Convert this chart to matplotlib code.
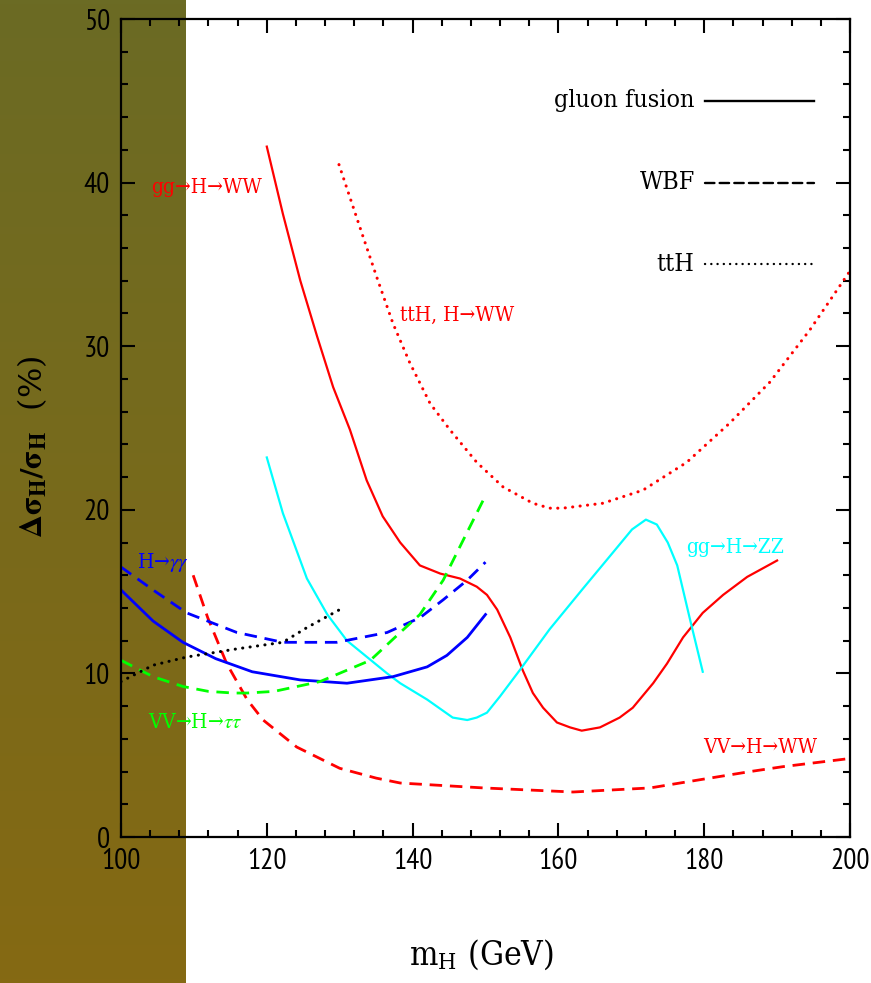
import numpy as np
import matplotlib
matplotlib.use("Agg")
import matplotlib.pyplot as plt
from matplotlib import font_manager
from matplotlib.font_manager import FontProperties
from matplotlib.ticker import MultipleLocator

# ---------------- data ----------------
# gluon fusion, H -> WW (red solid)
gg_ww_x = [120, 122.2, 124.6, 126.9, 129.1, 131.4, 133.7, 135.9, 138.3, 141.0, 143.8, 146.5,
           148.8, 150.2, 151.6, 153.4, 155.1, 156.5, 157.9, 159.8, 161.6, 163.2, 165.7, 168.4,
           170.2, 173.0, 174.9, 177.1, 179.8, 182.6, 185.9, 190.0]
gg_ww_y = [42.2, 38.1, 34.0, 30.6, 27.5, 24.9, 21.8, 19.6, 18.0, 16.6, 16.1, 15.8,
           15.3, 14.8, 13.9, 12.2, 10.2, 8.8, 7.9, 7.0, 6.7, 6.5, 6.7, 7.3,
           7.9, 9.4, 10.6, 12.2, 13.7, 14.8, 15.9, 16.9]

# gluon fusion, H -> ZZ (cyan solid)
gg_zz_x = [120, 122.2, 125.5, 128.3, 131.0, 136.5, 138.3, 142.0, 145.5, 147.5, 148.8, 150.2,
           152.0, 154.7, 158.8, 163.4, 167.5, 170.1, 172.0, 173.5, 175.0, 176.3, 178.0, 179.8]
gg_zz_y = [23.2, 19.8, 15.8, 13.6, 12.0, 10.0, 9.4, 8.4, 7.3, 7.15, 7.3, 7.6,
           8.6, 10.2, 12.7, 15.2, 17.4, 18.8, 19.4, 19.1, 18.0, 16.6, 13.4, 10.1]

# ttH, H -> WW (red dotted)
tth_ww_x = [129.9, 131.4, 133.2, 135.1, 137.3, 139.6, 142.4, 145.1, 148.8, 152.4, 156.5, 158.8,
            160.6, 166.1, 171.6, 177.6, 183.5, 189.0, 194.5, 200.0]
tth_ww_y = [41.1, 39.1, 36.7, 34.2, 31.4, 29.0, 26.5, 24.9, 22.9, 21.4, 20.4, 20.1,
            20.1, 20.4, 21.2, 22.9, 25.3, 27.8, 31.0, 34.6]

# WBF, H -> WW (red dashed)
vv_ww_x = [109.9, 111.9, 114.5, 117.3, 119.5, 124.1, 130.0, 135.0, 138.3, 149.7, 162.0,
           172.6, 179.4, 186.3, 190.8, 200.0]
vv_ww_y = [16.0, 13.4, 10.6, 8.4, 7.15, 5.5, 4.2, 3.6, 3.3, 3.0, 2.75,
           3.0, 3.5, 4.0, 4.3, 4.8]

# gluon fusion, H -> gamma gamma (blue solid)
gg_aa_x = [100, 104.4, 108.5, 113.0, 118.0, 124.6, 131.0, 137.3, 142.0, 144.7, 147.5, 150.0]
gg_aa_y = [15.1, 13.2, 11.9, 10.9, 10.1, 9.6, 9.4, 9.8, 10.4, 11.1, 12.2, 13.6]

# WBF, H -> gamma gamma (blue dashed)
vv_aa_x = [100, 104.4, 109.0, 115.9, 122.2, 129.6, 136.5, 141.0, 144.2, 147.5, 150.0]
vv_aa_y = [16.5, 15.1, 13.7, 12.5, 11.9, 11.9, 12.5, 13.4, 14.5, 15.7, 16.8]

# WBF, H -> tau tau (green dashed)
vv_tt_x = [100, 104.4, 108.5, 112.0, 115.4, 117.3, 121.0, 127.3, 134.2, 138.3, 141.0, 144.2, 147.0, 149.7]
vv_tt_y = [10.8, 9.8, 9.2, 8.9, 8.8, 8.8, 8.9, 9.5, 10.8, 12.5, 13.6, 15.7, 18.2, 20.6]

# ttH, H -> gamma gamma (black dotted)
tth_aa_x = [100, 104.4, 109.0, 115.9, 122.2, 125.5, 130.0]
tth_aa_y = [9.5, 10.5, 11.0, 11.5, 11.9, 12.8, 13.9]

legend_labels = ["gluon fusion", "WBF", "ttH"]
legend_y = [45, 40, 35]

x_ticks = [100, 120, 140, 160, 180, 200]
y_ticks = [0, 10, 20, 30, 40, 50]

# ---------------- fonts ----------------
def have(name):
    try:
        font_manager.findfont(FontProperties(family=name), fallback_to_default=False)
        return True
    except Exception:
        return False

def serif_c(size):
    return FontProperties(family=["DejaVu Serif"], stretch="condensed", size=size)

if have("PT Sans Narrow"):
    tick_fp = FontProperties(family="PT Sans Narrow", size=21)
elif have("Archivo Narrow"):
    tick_fp = FontProperties(family="Archivo Narrow", size=21)
else:
    tick_fp = FontProperties(family="DejaVu Sans", stretch="condensed", size=16)

plt.rcParams["font.family"] = ["DejaVu Serif"]
plt.rcParams["mathtext.fontset"] = "stix"

# ---------------- figure ----------------
W, H = 871, 983
fig = plt.figure(figsize=(W / 100, H / 100), dpi=100)
fig.patch.set_facecolor("white")

# gradient band on the left
band = fig.add_axes([0, 0, 185 / W, 1])
top = np.array([107, 107, 36]) / 255.0
bot = np.array([133, 105, 19]) / 255.0
t = np.linspace(0, 1, 256)[:, None]
grad = (top[None, :] * (1 - t) + bot[None, :] * t)[:, None, :]
band.imshow(grad, aspect="auto", extent=[0, 1, 0, 1], origin="upper")
band.set_axis_off()

ax = fig.add_axes([121 / W, (H - 837) / H, (850 - 121) / W, (837 - 19) / H])
ax.patch.set_alpha(0)

RED, BLUE, CYAN, GREEN = "#ff0000", "#0000ff", "#00ffff", "#00ff00"
dash = (0, (4.5, 2.8))
dot = (0, (0.05, 2.4))
dkw = dict(dash_capstyle="round")

ax.plot(gg_ww_x, gg_ww_y, color=RED, lw=1.6)
ax.plot(gg_zz_x, gg_zz_y, color=CYAN, lw=1.6)
ax.plot(tth_ww_x, tth_ww_y, color=RED, lw=2.2, linestyle=dot, **dkw)
ax.plot(vv_ww_x, vv_ww_y, color=RED, lw=2.0, linestyle=dash)
ax.plot(gg_aa_x, gg_aa_y, color=BLUE, lw=2.0)
ax.plot(vv_aa_x, vv_aa_y, color=BLUE, lw=2.0, linestyle=dash)
ax.plot(vv_tt_x, vv_tt_y, color=GREEN, lw=2.0, linestyle=dash)
ax.plot(tth_aa_x, tth_aa_y, color="black", lw=2.2, linestyle=dot, **dkw)

# legend (drawn inside the axes)
styles = ["-", (0, (4.0, 2.2)), (0, (0.05, 2.6))]
for lab, yy, ls in zip(legend_labels, legend_y, styles):
    ax.plot([180.1, 195.1], [yy, yy], color="black", lw=1.7, linestyle=ls, dash_capstyle="round")
    ax.text(178.7, yy, lab, ha="right", va="center", fontproperties=serif_c(18), color="black")

# curve labels
def lab(x, y, s, c):
    ax.text(x, y, s, color=c, ha="center", va="center", fontproperties=serif_c(15))

lab(111.8, 39.7, "gg→H→WW", RED)
lab(146.1, 31.9, "ttH, H→WW", RED)
lab(105.8, 16.8, r"H→$\gamma\gamma$", BLUE)
lab(110.2, 7.0, r"VV→H→$\tau\tau$", GREEN)
lab(184.2, 17.7, "gg→H→ZZ", CYAN)
lab(187.7, 5.45, "VV→H→WW", RED)

ax.set_xlim(100, 200)
ax.set_ylim(0, 50)
ax.set_xticks(x_ticks)
ax.set_yticks(y_ticks)
ax.xaxis.set_minor_locator(MultipleLocator(4))
ax.yaxis.set_minor_locator(MultipleLocator(2))
ax.tick_params(which="both", direction="in", top=True, right=True, width=1.5)
ax.tick_params(which="major", length=10, pad=8)
ax.tick_params(which="minor", length=5)
for lbl in ax.get_xticklabels() + ax.get_yticklabels():
    lbl.set_fontproperties(tick_fp)
for s in ax.spines.values():
    s.set_linewidth(1.6)

fig.text(481 / W, 1 - 955 / H, r"m$_\mathregular{H}$ (GeV)", ha="center", va="center",
         fontproperties=serif_c(24))
fig.text(32 / W, 1 - 447 / H, r"$\mathbf{\Delta\sigma_{H}/\sigma_{H}}$  (%)", ha="center", va="center",
         fontsize=23, rotation=90)

fig.savefig("out.png", dpi=100)
